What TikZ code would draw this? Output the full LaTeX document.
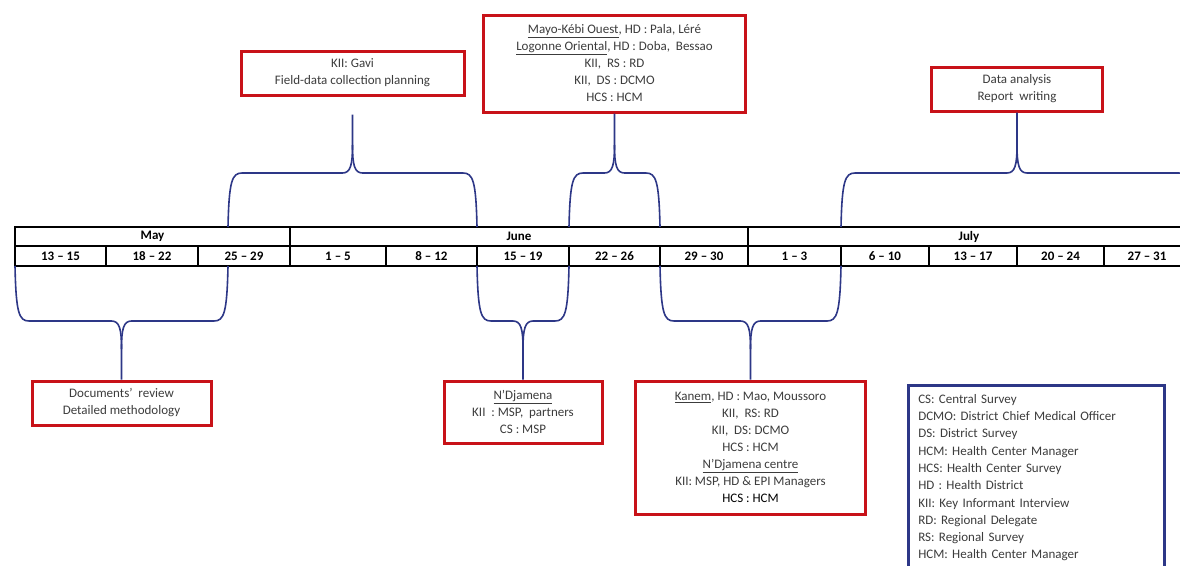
\documentclass[tikz,border=0pt]{standalone}
\usepackage{fontspec}
\setmainfont{Carlito}
\usetikzlibrary{calc}
\definecolor{boxred}{RGB}{200,18,24}
\definecolor{navy}{RGB}{45,55,135}
\definecolor{txt}{RGB}{60,60,60}
% L R T B end
\newcommand\upbr[5]{%
 \draw[bracestyle] (#1,#3) .. controls (#1+1,#4+8) and (#1+4,#4) .. (#1+14,#4) -- ({(#1+#2)/2-10},#4) .. controls ({(#1+#2)/2-2},#4) and ({(#1+#2)/2},#4-8) .. ({(#1+#2)/2},#4-28) -- #5;
 \draw[bracestyle] (#2,#3) .. controls (#2-1,#4+8) and (#2-4,#4) .. (#2-14,#4) -- ({(#1+#2)/2+10},#4) .. controls ({(#1+#2)/2+2},#4) and ({(#1+#2)/2},#4-8) .. ({(#1+#2)/2},#4-28);}
\newcommand\dnbr[5]{%
 \draw[bracestyle] (#1,#3) .. controls (#1+1,#4-8) and (#1+4,#4) .. (#1+14,#4) -- ({(#1+#2)/2-10},#4) .. controls ({(#1+#2)/2-2},#4) and ({(#1+#2)/2},#4+8) .. ({(#1+#2)/2},#4+28) -- #5;
 \draw[bracestyle] (#2,#3) .. controls (#2-1,#4-8) and (#2-4,#4) .. (#2-14,#4) -- ({(#1+#2)/2+10},#4) .. controls ({(#1+#2)/2+2},#4) and ({(#1+#2)/2},#4+8) .. ({(#1+#2)/2},#4+28);}
\begin{document}
\begin{tikzpicture}[x=1pt,y=-1pt,
 every node/.style={font=\fontsize{13}{17}\selectfont},
 redbox/.style={draw=boxred, line width=3pt, align=center, text=txt, inner sep=0pt},
 cell/.style={draw=black, line width=1.1pt, anchor=north west, inner sep=0pt, outer sep=0pt, text=black},
 bracestyle/.style={draw=navy, line width=1.6pt},
 ]
\useasboundingbox (0,0) rectangle (1180,565);
\clip (0,0) rectangle (1180,565);
\fill[white] (0,0) rectangle (1180,565);

% table: months
\node[cell, minimum width=275, minimum height=19, font=\fontsize{13}{17}\selectfont\bfseries] (mMay) at (15,227) {May};
\node[cell, minimum width=458, minimum height=19, font=\fontsize{13}{17}\selectfont\bfseries] (mJune) at (290,227) {June};
\node[cell, minimum width=442, minimum height=19, font=\fontsize{13}{17}\selectfont\bfseries] (mJuly) at (748,227) {July};
% dates
\foreach \a/\b/\t [count=\i] in {15/106/13 – 15, 106/198/18 – 22, 198/290/25 – 29, 290/386/1 – 5, 386/477/8 – 12, 477/569/15 – 19, 569/660/22 – 26, 660/748/29 – 30, 748/841/1 – 3, 841/929/6 – 10, 929/1017/13 – 17, 1017/1104/20 – 24, 1104/1190/27 – 31}
 \node[cell, minimum width={\b-\a}, minimum height=20, font=\fontsize{13}{17}\selectfont\bfseries] (d\i) at (\a,246) {\t};

% boxes
\node[redbox, minimum width=223, minimum height=44] (gavi) at (352.5,73) {KII: Gavi\\Field-data collection planning};
\node[redbox, minimum width=262, minimum height=97] (south) at (614.5,63.5) {\underline{Mayo-Kébi Ouest}, HD : Pala, Léré\\\underline{Logonne Oriental}, HD : Doba,~ Bessao\\KII,~ RS : RD\\KII,~ DS : DCMO\\HCS : HCM};
\node[redbox, minimum width=171, minimum height=44] (analysis) at (1017,89) {Data analysis\\Report~ writing};
\node[redbox, minimum width=179, minimum height=44] (docs) at (121.5,403) {Documents’~ review\\Detailed methodology};
\node[redbox, minimum width=158, minimum height=62] (ndj) at (523,412) {\underline{N’Djamena}\\KII~ : MSP,~ partners\\CS : MSP};
\node[redbox, minimum width=230, minimum height=133] (kanem) at (750.5,447.5) {\underline{Kanem}, HD : Mao, Moussoro\\KII,~ RS: RD\\KII,~ DS: DCMO\\HCS : HCM\\\underline{N’Djamena centre}\\KII: MSP, HD \& EPI Managers\\\textcolor{black}{HCS : HCM}};

% legend
\node[draw=navy, line width=2.5pt, anchor=north west, align=left, text=txt, inner xsep=10pt, inner ysep=9pt, text width=236pt, font=\fontsize{13}{17.3}\selectfont] (legend) at (907,384) {CS: Central Survey\\DCMO: District Chief Medical Officer\\DS: District Survey\\HCM: Health Center Manager\\HCS: Health Center Survey\\HD : Health District\\KII: Key Informant Interview\\RD: Regional Delegate\\RS: Regional Survey\\HCM: Health Center Manager};

% braces
\upbr{228}{477}{227}{173}{($(gavi.south)+(0,18)$)}
\upbr{569}{660}{227}{173}{(south.south)}
\upbr{841}{1193}{227}{173}{(analysis.south)}
\dnbr{15}{228}{266}{321}{(docs.north)}
\dnbr{477}{569}{266}{321}{(ndj.north)}
\dnbr{660}{841}{266}{321}{(kanem.north)}
\end{tikzpicture}
\end{document}
